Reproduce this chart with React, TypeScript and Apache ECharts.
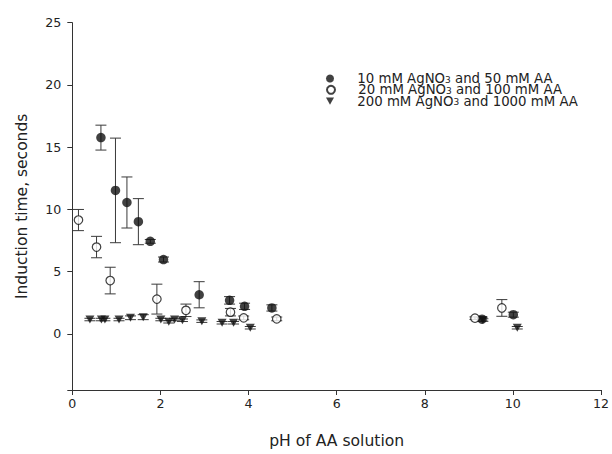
import React, { useEffect, useRef } from "react";
import * as echarts from "echarts";

// ---- data ----
const seriesNames = [
  "10 mM AgNO3 and 50 mM AA",
  "20 mM AgNO3 and 100 mM AA",
  "200 mM AgNO3 and 1000 mM AA",
];

const filledX = [0.65, 0.98, 1.24, 1.5, 1.77, 2.07, 2.88, 3.57, 3.91, 4.53, 9.3, 10.01];
const filledY = [15.77, 11.53, 10.56, 9.02, 7.44, 5.98, 3.15, 2.7, 2.22, 2.09, 1.19, 1.55];
const filledErr = [1.0, 4.2, 2.05, 1.85, 0.15, 0.2, 1.05, 0.3, 0.25, 0.25, 0.15, 0.2];

const openX = [0.14, 0.55, 0.86, 1.92, 2.58, 3.59, 3.89, 4.64, 9.14, 9.75];
const openY = [9.15, 6.98, 4.29, 2.8, 1.9, 1.75, 1.29, 1.21, 1.27, 2.09];
const openErr = [0.85, 0.86, 1.07, 1.2, 0.5, 0.3, 0.15, 0.15, 0.1, 0.67];

const triX = [0.4, 0.66, 0.74, 1.06, 1.32, 1.61, 2.01, 2.19, 2.32, 2.5, 2.94, 3.4, 3.66, 4.04, 9.32, 10.1];
const triY = [1.16, 1.16, 1.16, 1.16, 1.3, 1.35, 1.16, 0.98, 1.16, 1.1, 1.03, 0.9, 0.9, 0.5, 1.12, 0.5];
const triErr = [0.1, 0.1, 0.1, 0.1, 0.15, 0.2, 0.1, 0.1, 0.1, 0.1, 0.1, 0.1, 0.1, 0.1, 0.1, 0.1];

const yTickValues = [0, 5, 10, 15, 20, 25];
const xTickValues = [0, 2, 4, 6, 8, 10, 12];

const FONT = "DejaVu Sans";
const TRI = "path://M0,0L10,0L5,9Z";

function pts(xs: number[], ys: number[]) {
  return xs.map((x, i) => [x, ys[i]]);
}
function errs(xs: number[], ys: number[], es: number[]) {
  return xs.map((x, i) => [x, ys[i] - es[i], ys[i] + es[i]]);
}

function errorSeries(data: number[][]) {
  return {
    type: "custom",
    silent: true,
    z: 1,
    encode: { x: 0, y: [1, 2] },
    data,
    renderItem: (_p: any, api: any) => {
      const x = api.value(0);
      const lo = api.coord([x, api.value(1)]);
      const hi = api.coord([x, api.value(2)]);
      const hw = 5.5;
      const st = { stroke: "#3a3a3a", lineWidth: 1 };
      return {
        type: "group",
        children: [
          { type: "line", shape: { x1: hi[0], y1: hi[1], x2: lo[0], y2: lo[1] }, style: st },
          { type: "line", shape: { x1: hi[0] - hw, y1: hi[1], x2: hi[0] + hw, y2: hi[1] }, style: st },
          { type: "line", shape: { x1: lo[0] - hw, y1: lo[1], x2: lo[0] + hw, y2: lo[1] }, style: st },
        ],
      };
    },
  };
}

const legendRowCenters = [76, 87.3, 98.7];

function makeLegend(name: string, i: number) {
  return {
    orient: "vertical",
    left: 326,
    top: legendRowCenters[i] - 4,
    padding: 0,
    itemWidth: 8,
    itemHeight: 8,
    data: [name],
    selectedMode: false,
    formatter: (n: string) => {
      const parts = n.split("AgNO3");
      return `{p| }{a|${parts[0]}AgNO}{sub|3}{a|${parts[1]}}`;
    },
    textStyle: {
      fontFamily: FONT,
      fontSize: 13.3,
      color: "#222",
      rich: {
        p: { width: 18.3, lineHeight: 11, fontSize: 13.3, fontFamily: FONT },
        a: { fontSize: 13.3, lineHeight: 11, fontFamily: FONT, color: "#222" },
        sub: { fontSize: 9, lineHeight: 4, verticalAlign: "bottom", fontFamily: FONT, color: "#222" },
      },
    },
  };
}

export default function App() {
  const ref = useRef<HTMLDivElement>(null);
  useEffect(() => {
    if (!ref.current) return;
    const chart = echarts.init(ref.current, undefined, { renderer: "svg" });
    const axisLineStyle = { color: "#333", width: 1 };
    chart.setOption({
      animation: false,
      backgroundColor: "#fff",
      grid: { left: 72.3, right: 6.7, top: 22.7, bottom: 59, containLabel: false },
      legend: seriesNames.map((n, i) => makeLegend(n, i)),
      xAxis: {
        type: "value",
        min: 0,
        max: 12,
        interval: 2,
        name: "pH of AA solution",
        nameLocation: "middle",
        nameGap: 43,
        nameTextStyle: { fontFamily: FONT, fontSize: 15.6, color: "#222" },
        axisLine: { show: true, onZero: false, lineStyle: axisLineStyle },
        axisTick: { show: true, inside: false, length: 5, lineStyle: axisLineStyle, customValues: xTickValues },
        axisLabel: { fontFamily: FONT, fontSize: 12.6, color: "#222", margin: 7, customValues: xTickValues },
        splitLine: { show: false },
      },
      yAxis: {
        type: "value",
        min: -4.5,
        max: 25,
        name: "Induction time, seconds",
        nameLocation: "middle",
        nameGap: 42,
        nameTextStyle: { fontFamily: FONT, fontSize: 15.5, color: "#222" },
        axisLine: { show: true, onZero: false, lineStyle: axisLineStyle },
        axisTick: { show: true, inside: false, length: 5, lineStyle: axisLineStyle, customValues: [-4.5, ...yTickValues] },
        axisLabel: { fontFamily: FONT, fontSize: 12.6, color: "#222", margin: 11, customValues: yTickValues },
        splitLine: { show: false },
      },
      series: [
        errorSeries(errs(filledX, filledY, filledErr)),
        errorSeries(errs(openX, openY, openErr)),
        errorSeries(errs(triX, triY, triErr)),
        {
          name: seriesNames[0],
          type: "scatter",
          z: 3,
          symbol: "circle",
          symbolSize: 9.5,
          itemStyle: { color: "#111" },
          data: pts(filledX, filledY),
        },
        {
          name: seriesNames[1],
          type: "scatter",
          z: 4,
          symbol: "circle",
          symbolSize: 8.5,
          itemStyle: { color: "#fff", borderColor: "#111", borderWidth: 1.2 },
          data: pts(openX, openY),
        },
        {
          name: seriesNames[2],
          type: "scatter",
          z: 5,
          symbol: TRI,
          symbolSize: [9, 8],
          itemStyle: { color: "#111" },
          data: pts(triX, triY),
        },
      ],
    });
    return () => chart.dispose();
  }, []);
  return (
    <div
      ref={ref}
      style={{ position: "fixed", left: 0, top: 0, width: 612, height: 454, background: "#fff" }}
    />
  );
}
